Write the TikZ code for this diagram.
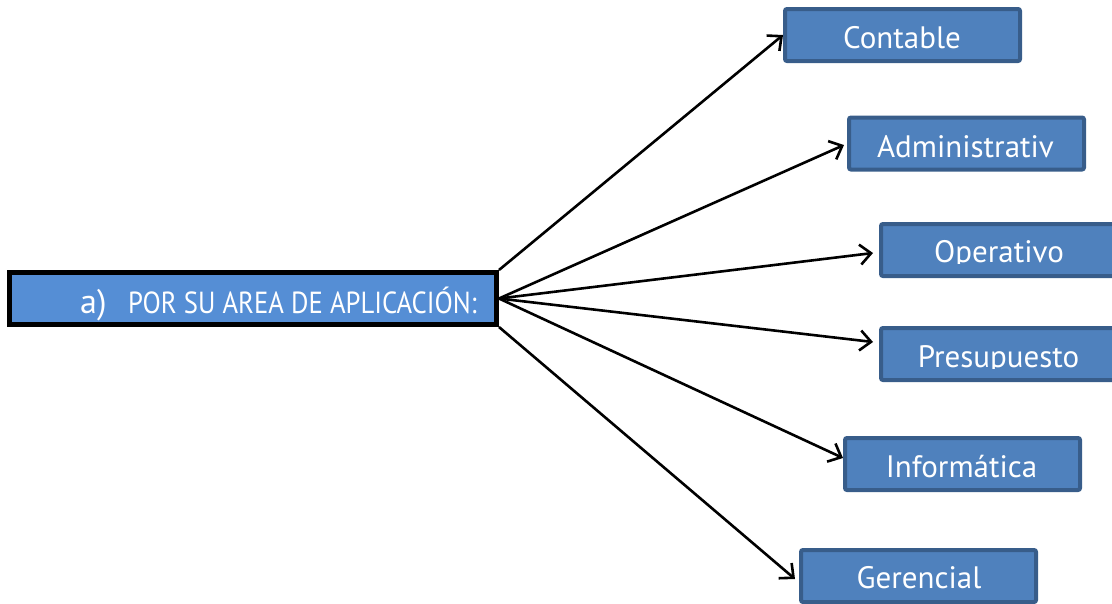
\documentclass[tikz,border=0pt]{standalone}
\usepackage{fontspec}
\setmainfont{PT Sans}
\usetikzlibrary{arrows.meta,calc}
\definecolor{boxfill}{HTML}{4F81BD}
\definecolor{boxline}{HTML}{385D8A}
\definecolor{mainfill}{HTML}{558ED5}
\begin{document}
\begin{tikzpicture}[x=1pt,y=-1pt,
 catbox/.style={draw=boxline, line width=4pt, fill=boxfill, rounded corners=2pt, minimum width=235pt, minimum height=52pt, inner sep=0pt},
 cattext/.style={text=white, font=\fontsize{31}{31}\selectfont, anchor=base, inner sep=0pt},
 mainbox/.style={draw=black, line width=5pt, fill=mainfill, minimum width=487pt, minimum height=52pt, inner sep=0pt},
 maintext/.style={text=white, anchor=base west, inner sep=0pt},
 link/.style={draw=black, line width=2.6pt, -{Straight Barb[length=11pt,width=20pt,line width=2.6pt]}}]
\useasboundingbox (0,0) rectangle (1112,603);
% main box
\node[mainbox] (main) at (253,298.5) {};
\node[maintext, font=\fontsize{34}{34}\selectfont] (mainA) at (80,313) {a)};
\node[maintext, font=\fontsize{30.5}{30.5}\selectfont] (mainT) at (128,313) {\scalebox{0.875}[1]{POR SU AREA DE APLICACIÓN:}};
% category boxes
\node[catbox] (cont) at (902.5,35) {};
\node[catbox] (adm) at (966.5,143.5) {};
\node[catbox] (oper) at (998.5,250) {};
\node[catbox] (pres) at (998.5,354) {};
\node[catbox] (inf) at (962.5,464) {};
\node[catbox] (ger) at (918.5,576) {};
% texts
\node[cattext] (contT) at (902,48) {Contable};
\node[cattext] (admT) at (965.5,157) {Administrativ};
\begin{scope}
\clip (879,222) rectangle (1112,263);
\node[cattext] (operT) at (999,262) {Operativo};
\end{scope}
\begin{scope}
\clip (879,326) rectangle (1112,368);
\node[cattext] (presT) at (998.5,367) {Presupuesto};
\end{scope}
\node[cattext] (infT) at (961.5,477) {Informática};
\node[cattext] (gerT) at (919,588) {Gerencial};
% connectors
\draw[link] (main.north east) -- (cont.west);
\draw[link] (main.east) -- ($(adm.west)+(-3,1.5)$);
\draw[link] (main.east) -- ($(oper.west)+(-6,3)$);
\draw[link] (main.east) -- ($(pres.west)+(-6,-12)$);
\draw[link] (main.east) -- ($(inf.west)+(0,-6)$);
\draw[link] (main.south east) -- ($(ger.west)+(-4,3)$);
\end{tikzpicture}
\end{document}
